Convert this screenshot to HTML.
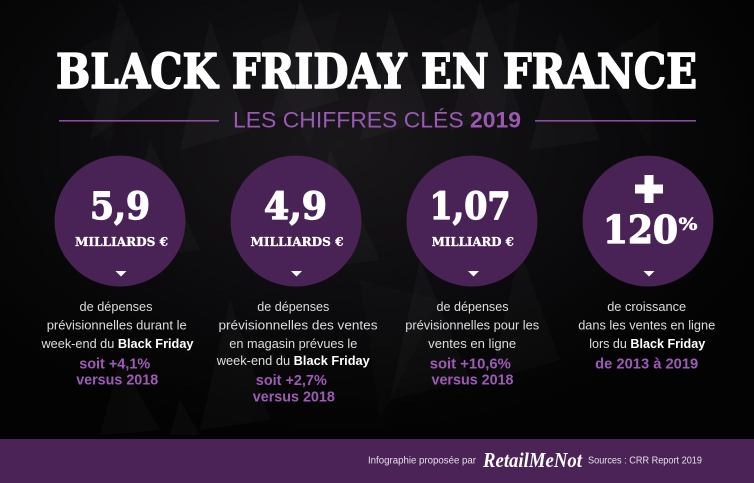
<!DOCTYPE html>
<html><head><meta charset="utf-8"><style>
html,body{margin:0;padding:0;background:#050505;}
svg{display:block;}
</style></head><body>
<svg width="754" height="483" viewBox="0 0 754 483" xmlns="http://www.w3.org/2000/svg">
<defs>
<radialGradient id="bg" cx="0.45" cy="0.3" r="0.6">
<stop offset="0" stop-color="#19171a"/>
<stop offset="0.6" stop-color="#0b0a0c"/>
<stop offset="1" stop-color="#030303"/>
</radialGradient>
</defs>
<rect width="754" height="483" fill="url(#bg)"/>
<g fill="#ffffff" opacity="0.022">
<polygon points="120,0 160,90 90,140"/>
<polygon points="210,20 250,130 180,150"/>
<polygon points="300,0 340,100 270,120"/>
<polygon points="390,10 430,120 360,140"/>
<polygon points="480,0 520,110 450,130"/>
<polygon points="560,30 600,140 530,150"/>
<polygon points="150,140 200,250 120,260"/>
<polygon points="330,150 380,260 300,270"/>
<polygon points="420,260 470,380 390,400"/>
<polygon points="520,250 560,360 490,380"/>
<polygon points="230,300 270,420 200,430"/>
<polygon points="120,360 160,430 100,435"/>
<polygon points="180,400 200,435 170,435"/>
</g>
<g fill="#ffffff" opacity="0.015">
<polygon points="60,60 130,20 110,150"/>
<polygon points="260,40 340,10 310,150"/>
<polygon points="440,40 520,0 500,140"/>
<polygon points="600,60 660,20 650,150"/>
<polygon points="360,280 440,300 380,420"/>
</g>

<!-- Title -->
<text x="56" y="88" textLength="641" lengthAdjust="spacingAndGlyphs" font-family="'DejaVu Serif', 'Liberation Serif', serif" font-weight="bold" font-size="48" fill="#ffffff" stroke="#ffffff" stroke-width="1.6" stroke-linejoin="round">BLACK FRIDAY EN FRANCE</text>

<!-- Subtitle -->
<rect x="59" y="120" width="160" height="1.6" fill="#8a4ba3"/>
<rect x="535" y="120" width="161" height="1.6" fill="#8a4ba3"/>
<text x="233" y="127.5" textLength="288" lengthAdjust="spacingAndGlyphs" font-family="'Liberation Sans', sans-serif" font-size="22" fill="#9a58b3">LES CHIFFRES CLÉS <tspan font-weight="bold">2019</tspan></text>

<!-- Circles -->
<g fill="#4a2356">
<circle cx="120" cy="221" r="65.5"/>
<circle cx="296" cy="221" r="65.5"/>
<circle cx="472" cy="221" r="65.5"/>
<circle cx="648" cy="221" r="65.5"/>
</g>

<g font-family="'DejaVu Serif', 'Liberation Serif', serif" font-weight="bold" fill="#ffffff" stroke="#ffffff" stroke-linejoin="round" text-anchor="middle">
<text x="120" y="219" font-size="37" stroke-width="1.3" textLength="60" lengthAdjust="spacingAndGlyphs">5,9</text>
<text x="295.5" y="219" font-size="37" stroke-width="1.3" textLength="63" lengthAdjust="spacingAndGlyphs">4,9</text>
<text x="470" y="219" font-size="37" stroke-width="1.3" textLength="81" lengthAdjust="spacingAndGlyphs">1,07</text>
<text x="640.5" y="243" font-size="38" stroke-width="1.3" textLength="75" lengthAdjust="spacingAndGlyphs">120</text>
<text x="688" y="230" font-size="17" stroke-width="0.5" textLength="19" lengthAdjust="spacingAndGlyphs">%</text>
<text x="121.5" y="246" font-size="12.5" stroke-width="0.3" textLength="93" lengthAdjust="spacingAndGlyphs">MILLIARDS €</text>
<text x="297" y="246" font-size="12.5" stroke-width="0.3" textLength="93" lengthAdjust="spacingAndGlyphs">MILLIARDS €</text>
<text x="472.8" y="246" font-size="12.5" stroke-width="0.3" textLength="82" lengthAdjust="spacingAndGlyphs">MILLIARD €</text>
</g>
<rect x="644.5" y="175" width="9" height="28" fill="#ffffff"/>
<rect x="635" y="184.5" width="28" height="9" fill="#ffffff"/>

<g fill="#ffffff">
<polygon points="115.5,271 126.5,271 121,276.5"/>
<polygon points="291,271 302,271 296.5,276.5"/>
<polygon points="468,271 479,271 473.5,276.5"/>
<polygon points="643.5,271 654.5,271 649,276.5"/>
</g>

<!-- Descriptions -->
<g font-family="'Liberation Sans', sans-serif" font-size="13" fill="#dedede" text-anchor="middle">
<text x="116" y="311" textLength="73" lengthAdjust="spacingAndGlyphs">de dépenses</text>
<text x="116.7" y="329.5" textLength="140" lengthAdjust="spacingAndGlyphs">prévisionnelles durant le</text>
<text x="117.5" y="348" textLength="152" lengthAdjust="spacingAndGlyphs">week-end du <tspan font-weight="bold" fill="#ffffff">Black Friday</tspan></text>

<text x="293.3" y="311" textLength="72" lengthAdjust="spacingAndGlyphs">de dépenses</text>
<text x="298" y="329.5" textLength="159" lengthAdjust="spacingAndGlyphs">prévisionnelles des ventes</text>
<text x="293.3" y="348" textLength="128" lengthAdjust="spacingAndGlyphs">en magasin prévues le</text>
<text x="293.3" y="365" textLength="153" lengthAdjust="spacingAndGlyphs">week-end du <tspan font-weight="bold" fill="#ffffff">Black Friday</tspan></text>

<text x="472.5" y="311" textLength="72" lengthAdjust="spacingAndGlyphs">de dépenses</text>
<text x="472.2" y="329.5" textLength="134" lengthAdjust="spacingAndGlyphs">prévisionnelles pour les</text>
<text x="472.2" y="348" textLength="88" lengthAdjust="spacingAndGlyphs">ventes en ligne</text>

<text x="646.7" y="311" textLength="79" lengthAdjust="spacingAndGlyphs">de croissance</text>
<text x="646.7" y="329.5" textLength="137" lengthAdjust="spacingAndGlyphs">dans les ventes en ligne</text>
<text x="647.2" y="348" textLength="116" lengthAdjust="spacingAndGlyphs">lors du <tspan font-weight="bold" fill="#ffffff">Black Friday</tspan></text>
</g>

<g font-family="'Liberation Sans', sans-serif" font-size="14.5" font-weight="bold" fill="#9d5bb6" text-anchor="middle">
<text x="114.7" y="368.5" textLength="71" lengthAdjust="spacingAndGlyphs">soit +4,1%</text>
<text x="117.2" y="384.5" textLength="82" lengthAdjust="spacingAndGlyphs">versus 2018</text>
<text x="291.3" y="385" textLength="71" lengthAdjust="spacingAndGlyphs">soit +2,7%</text>
<text x="293.8" y="401.5" textLength="82" lengthAdjust="spacingAndGlyphs">versus 2018</text>
<text x="470.3" y="368.5" textLength="81" lengthAdjust="spacingAndGlyphs">soit +10,6%</text>
<text x="472.5" y="384.5" textLength="82" lengthAdjust="spacingAndGlyphs">versus 2018</text>
<text x="646.7" y="368.5" textLength="103" lengthAdjust="spacingAndGlyphs">de 2013 à 2019</text>
</g>

<!-- Footer -->
<rect x="0" y="439" width="754" height="44" fill="#4b2357"/>
<text x="368" y="463.5" textLength="108" lengthAdjust="spacingAndGlyphs" font-family="'Liberation Sans', sans-serif" font-size="10" fill="#e6e0e8">Infographie proposée par</text>
<text x="483" y="467" textLength="99" lengthAdjust="spacingAndGlyphs" font-family="'Liberation Serif', serif" font-style="italic" font-weight="bold" font-size="21" fill="#ffffff">RetailMeNot</text>
<text x="588" y="463.5" textLength="114" lengthAdjust="spacingAndGlyphs" font-family="'Liberation Sans', sans-serif" font-size="10" fill="#e6e0e8">Sources : CRR Report 2019</text>
</svg>
</body></html>
